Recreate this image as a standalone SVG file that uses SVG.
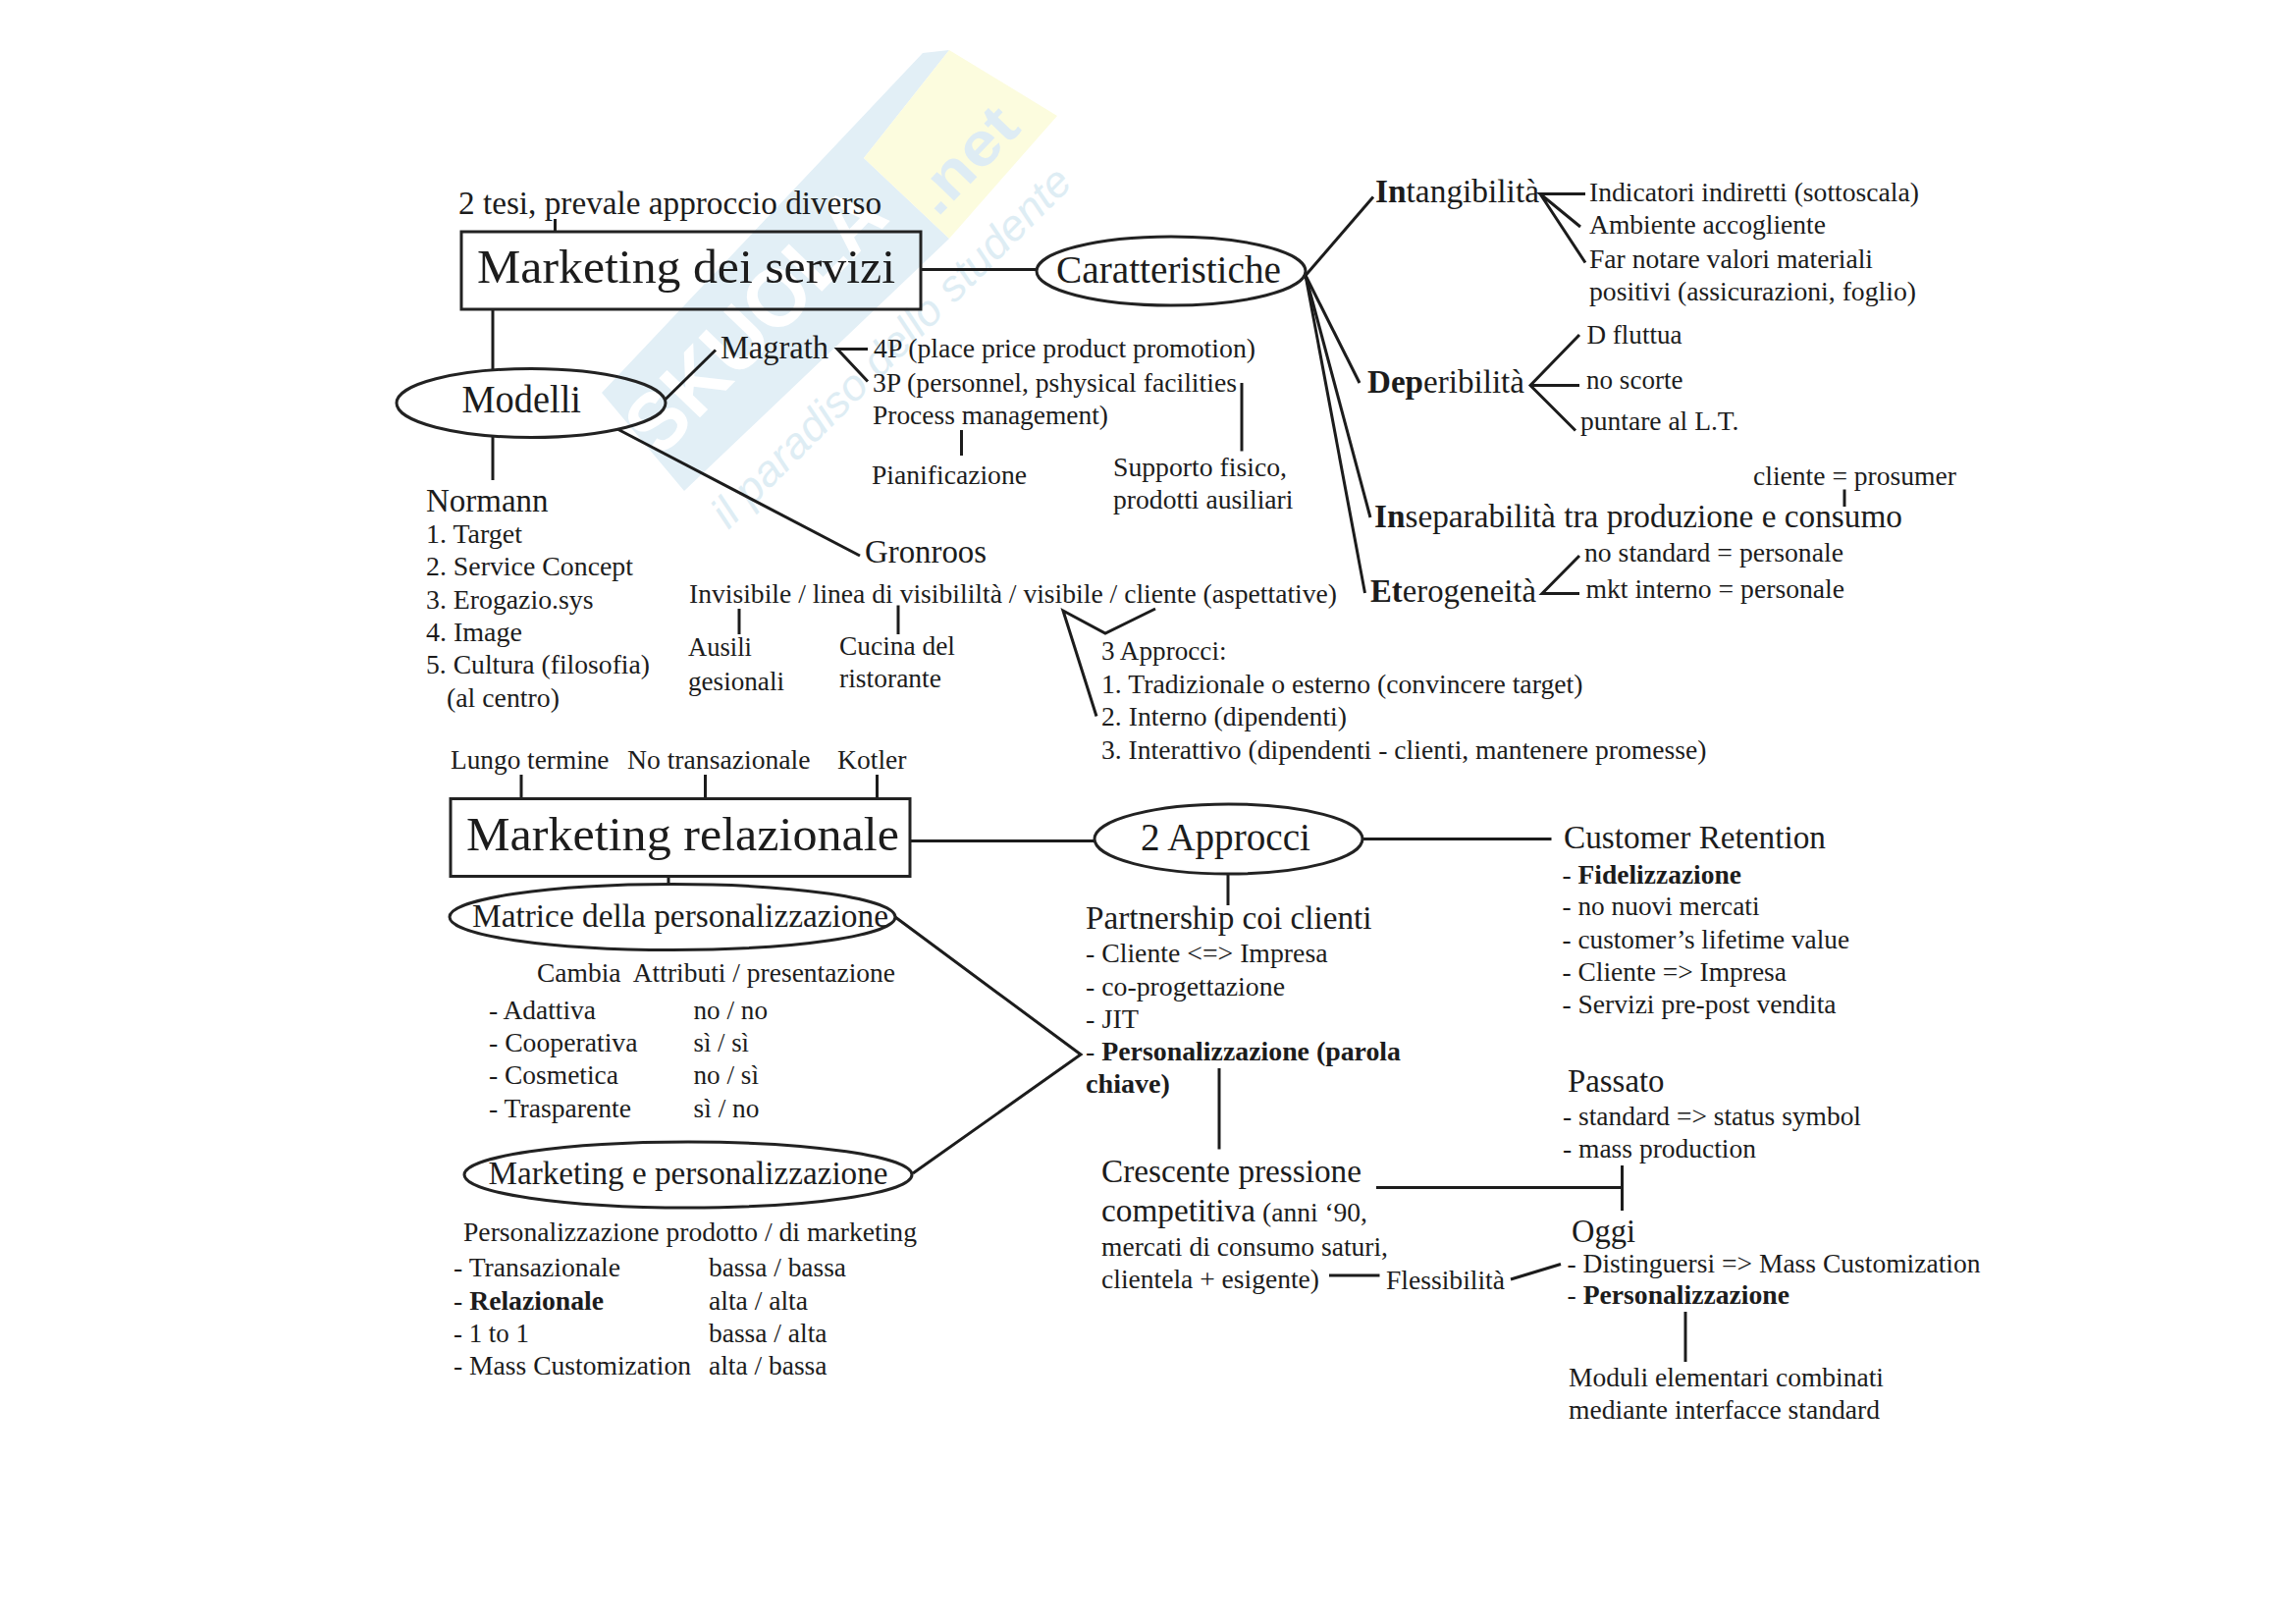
<svg xmlns="http://www.w3.org/2000/svg" width="2339" height="1653" viewBox="0 0 2339 1653">
<style>
text{font-family:"Liberation Serif","Times New Roman",serif;fill:#1c1c1c;font-size:27.5px}
.m{font-size:33px}
.o{font-size:39px}
.h{font-size:48px}
tspan.b,.b{font-weight:bold}
.box{fill:none;stroke:#222;stroke-width:3}
.ln{fill:none;stroke:#1c1c1c;stroke-width:3;stroke-linejoin:miter}
.wm{font-family:"Liberation Sans",Arial,sans-serif;font-weight:bold}
.wi{font-family:"Liberation Sans",Arial,sans-serif;font-style:italic;fill:#deedf4;font-size:44px}
</style>
<rect width="2339" height="1653" fill="#fff"/>
<g id="watermark">
<polygon points="940,54 967,51 880,161 967,243 697,500 613,400" fill="#e2eff6"/>
<polygon points="967,51 1077,118 967,243 880,161" fill="#fcfcde"/>
<text class="wm" transform="translate(672,468) rotate(-46)" style="fill:#fff;font-size:84px" textLength="340" lengthAdjust="spacingAndGlyphs">SKUOLA</text>
<text class="wm" transform="translate(955,222) rotate(-46)" style="fill:#deecf4;font-size:62px" textLength="125" lengthAdjust="spacingAndGlyphs">.net</text>
<text class="wi" transform="translate(742,540) rotate(-45)" textLength="498" lengthAdjust="spacingAndGlyphs">il paradiso dello studente</text>
</g>
<g id="connectors" class="ln">
<path d="M565.5 223V236"/>
<path d="M938 274.500H1056"/>
<path d="M502 315V376"/>
<path d="M677 407.500L729 356.500"/>
<path d="M884 355.500H853L884 388.500"/>
<path d="M979.500 438V464"/>
<path d="M1265 390V459.500"/>
<path d="M502 445V489"/>
<path d="M629 437L876 566"/>
<path d="M753 620V646"/>
<path d="M915 616.500V646"/>
<path d="M1177 620L1126 645L1083 622L1117 729.500"/>
<path d="M1330 280.500L1399 200.500"/>
<path d="M1330 280.500L1385 390"/>
<path d="M1330 280.500L1396 527"/>
<path d="M1330 280.500L1390.500 604"/>
<path d="M1615 197.500H1569L1610 231M1569 197.500L1615 267.500"/>
<path d="M1609 341L1559 392.500L1605 438.500M1559 392.500H1609"/>
<path d="M1879 498.500V516"/>
<path d="M1609 566L1571 604.500H1609"/>
<path d="M531 789V813.500M718.500 789V813.500M893.500 789V813.500"/>
<path d="M927 856.500H1115"/>
<path d="M681 892.500V900.500"/>
<path d="M912 934L1101 1074L930 1195"/>
<path d="M1388 854.500H1580.500"/>
<path d="M1251 890V922"/>
<path d="M1242 1088V1170.500"/>
<path d="M1354 1299H1405.500"/>
<path d="M1539 1303L1590 1287.500"/>
<path d="M1402 1209.500H1652.500"/>
<path d="M1652.500 1187V1233"/>
<path d="M1717 1336V1387"/>
</g>
<g id="tesi"><text x="467" y="218" class="m" textLength="431" lengthAdjust="spacingAndGlyphs">2 tesi, prevale approccio diverso</text></g>
<g id="marketing-servizi"><rect class="box" x="470" y="236" width="468" height="79"/><text x="486" y="288" class="h" textLength="426" lengthAdjust="spacingAndGlyphs">Marketing dei servizi</text></g>
<g id="caratteristiche"><ellipse class="box" cx="1193" cy="276" rx="137" ry="35"/><text x="1076" y="288" class="o" textLength="229" lengthAdjust="spacingAndGlyphs">Caratteristiche</text></g>
<g id="modelli"><ellipse class="box" cx="541" cy="410.500" rx="137" ry="35"/><text x="470.500" y="420" class="o" textLength="121.500" lengthAdjust="spacingAndGlyphs">Modelli</text></g>
<g id="magrath">
<text x="734" y="365" class="m" textLength="110" lengthAdjust="spacingAndGlyphs">Magrath</text>
<text x="890" y="364" textLength="389" lengthAdjust="spacingAndGlyphs">4P (place price product promotion)</text>
<text x="889" y="399" textLength="371" lengthAdjust="spacingAndGlyphs">3P (personnel, pshysical facilities</text>
<text x="889" y="432" textLength="240" lengthAdjust="spacingAndGlyphs">Process management)</text>
<text x="888" y="492.500" textLength="158" lengthAdjust="spacingAndGlyphs">Pianificazione</text>
<text x="1134" y="485" textLength="177" lengthAdjust="spacingAndGlyphs">Supporto fisico,</text>
<text x="1134" y="517.500" textLength="183.500" lengthAdjust="spacingAndGlyphs">prodotti ausiliari</text>
</g>
<g id="normann">
<text x="434" y="521" class="m" textLength="124.600" lengthAdjust="spacingAndGlyphs">Normann</text>
<text x="434" y="553" textLength="98" lengthAdjust="spacingAndGlyphs">1. Target</text>
<text x="434" y="586" textLength="211" lengthAdjust="spacingAndGlyphs">2. Service Concept</text>
<text x="434" y="620" textLength="170.500" lengthAdjust="spacingAndGlyphs">3. Erogazio.sys</text>
<text x="434" y="653" textLength="98" lengthAdjust="spacingAndGlyphs">4. Image</text>
<text x="434" y="686" textLength="228" lengthAdjust="spacingAndGlyphs">5. Cultura (filosofia)</text>
<text x="455" y="720" textLength="115" lengthAdjust="spacingAndGlyphs">(al centro)</text>
</g>
<g id="gronroos">
<text x="881" y="573" class="m" textLength="124" lengthAdjust="spacingAndGlyphs">Gronroos</text>
<text x="702" y="614" textLength="660" lengthAdjust="spacingAndGlyphs">Invisibile / linea di visibililtà / visibile / cliente (aspettative)</text>
<text x="701" y="668" textLength="65" lengthAdjust="spacingAndGlyphs">Ausili</text>
<text x="701" y="702.500" textLength="98" lengthAdjust="spacingAndGlyphs">gesionali</text>
<text x="855" y="667" textLength="118" lengthAdjust="spacingAndGlyphs">Cucina del</text>
<text x="855" y="700" textLength="104" lengthAdjust="spacingAndGlyphs">ristorante</text>
<text x="1122" y="672" textLength="127.500" lengthAdjust="spacingAndGlyphs">3 Approcci:</text>
<text x="1122" y="706" textLength="490.500" lengthAdjust="spacingAndGlyphs">1. Tradizionale o esterno (convincere target)</text>
<text x="1122" y="739" textLength="250" lengthAdjust="spacingAndGlyphs">2. Interno (dipendenti)</text>
<text x="1122" y="772.500" textLength="616.500" lengthAdjust="spacingAndGlyphs">3. Interattivo (dipendenti - clienti, mantenere promesse)</text>
</g>
<g id="intangibilita">
<text x="1401" y="206" class="m" textLength="167" lengthAdjust="spacingAndGlyphs"><tspan class="b">In</tspan>tangibilità</text>
<text x="1619" y="205" textLength="336" lengthAdjust="spacingAndGlyphs">Indicatori indiretti (sottoscala)</text>
<text x="1619" y="238" textLength="241" lengthAdjust="spacingAndGlyphs">Ambiente accogliente</text>
<text x="1619" y="272.500" textLength="289" lengthAdjust="spacingAndGlyphs">Far notare valori materiali</text>
<text x="1619" y="305.500" textLength="333" lengthAdjust="spacingAndGlyphs">positivi (assicurazioni, foglio)</text>
</g>
<g id="deperibilita">
<text x="1393" y="400" class="m" textLength="160" lengthAdjust="spacingAndGlyphs"><tspan class="b">Dep</tspan>eribilità</text>
<text x="1616.500" y="350" textLength="97" lengthAdjust="spacingAndGlyphs">D fluttua</text>
<text x="1616" y="396" textLength="98.500" lengthAdjust="spacingAndGlyphs">no scorte</text>
<text x="1610" y="438" textLength="161.500" lengthAdjust="spacingAndGlyphs">puntare al L.T.</text>
</g>
<g id="inseparabilita">
<text x="1786" y="493.500" textLength="207" lengthAdjust="spacingAndGlyphs">cliente = prosumer</text>
<text x="1400" y="537" class="m" textLength="538" lengthAdjust="spacingAndGlyphs"><tspan class="b">In</tspan>separabilità tra produzione e consumo</text>
</g>
<g id="eterogeneita">
<text x="1396" y="613" class="m" textLength="169" lengthAdjust="spacingAndGlyphs"><tspan class="b">Et</tspan>erogeneità</text>
<text x="1614" y="571.500" textLength="264" lengthAdjust="spacingAndGlyphs">no standard = personale</text>
<text x="1615.500" y="608.500" textLength="263.500" lengthAdjust="spacingAndGlyphs">mkt interno = personale</text>
</g>
<g id="marketing-relazionale">
<text x="459" y="783" textLength="161.500" lengthAdjust="spacingAndGlyphs">Lungo termine</text>
<text x="639" y="783" textLength="186.500" lengthAdjust="spacingAndGlyphs">No transazionale</text>
<text x="853" y="783" textLength="70.500" lengthAdjust="spacingAndGlyphs">Kotler</text>
<rect class="box" x="459" y="813.500" width="468" height="79"/>
<text x="475" y="866" class="h" textLength="441" lengthAdjust="spacingAndGlyphs">Marketing relazionale</text>
</g>
<g id="matrice">
<ellipse class="box" cx="685" cy="934" rx="227" ry="33.500"/>
<text x="481" y="944" class="m" textLength="424" lengthAdjust="spacingAndGlyphs">Matrice della personalizzazione</text>
<text x="547" y="1000" textLength="365" lengthAdjust="spacingAndGlyphs" xml:space="preserve">Cambia  Attributi / presentazione</text>
<text x="498" y="1038" textLength="109" lengthAdjust="spacingAndGlyphs">- Adattiva</text>
<text x="706.500" y="1038" textLength="75.500" lengthAdjust="spacingAndGlyphs">no / no</text>
<text x="498" y="1071" textLength="151.500" lengthAdjust="spacingAndGlyphs">- Cooperativa</text>
<text x="706.500" y="1071" textLength="56.500" lengthAdjust="spacingAndGlyphs">sì / sì</text>
<text x="498" y="1104" textLength="132" lengthAdjust="spacingAndGlyphs">- Cosmetica</text>
<text x="706.500" y="1104" textLength="66.500" lengthAdjust="spacingAndGlyphs">no / sì</text>
<text x="498" y="1138" textLength="145" lengthAdjust="spacingAndGlyphs">- Trasparente</text>
<text x="706.500" y="1138" textLength="67" lengthAdjust="spacingAndGlyphs">sì / no</text>
</g>
<g id="marketing-personalizzazione">
<ellipse class="box" cx="701" cy="1196.500" rx="228" ry="33.500"/>
<text x="497.500" y="1205.500" class="m" textLength="407" lengthAdjust="spacingAndGlyphs">Marketing e personalizzazione</text>
<text x="472" y="1264" textLength="462" lengthAdjust="spacingAndGlyphs">Personalizzazione prodotto / di marketing</text>
<text x="462" y="1300" textLength="170" lengthAdjust="spacingAndGlyphs">- Transazionale</text>
<text x="722" y="1300" textLength="140" lengthAdjust="spacingAndGlyphs">bassa / bassa</text>
<text x="462" y="1334" textLength="153" lengthAdjust="spacingAndGlyphs">- <tspan class="b">Relazionale</tspan></text>
<text x="722" y="1334" textLength="101" lengthAdjust="spacingAndGlyphs">alta / alta</text>
<text x="462" y="1367" textLength="77" lengthAdjust="spacingAndGlyphs">- 1 to 1</text>
<text x="722" y="1367" textLength="120.500" lengthAdjust="spacingAndGlyphs">bassa / alta</text>
<text x="462" y="1400" textLength="242" lengthAdjust="spacingAndGlyphs">- Mass Customization</text>
<text x="722" y="1400" textLength="120.500" lengthAdjust="spacingAndGlyphs">alta / bassa</text>
</g>
<g id="approcci"><ellipse class="box" cx="1251.500" cy="854.500" rx="136.500" ry="35.500"/><text x="1162" y="866" class="o" textLength="173" lengthAdjust="spacingAndGlyphs">2 Approcci</text></g>
<g id="partnership">
<text x="1106" y="946" class="m" textLength="291.500" lengthAdjust="spacingAndGlyphs">Partnership coi clienti</text>
<text x="1106" y="980" textLength="246.500" lengthAdjust="spacingAndGlyphs">- Cliente &lt;=&gt; Impresa</text>
<text x="1106" y="1013.500" textLength="203" lengthAdjust="spacingAndGlyphs">- co-progettazione</text>
<text x="1106" y="1047" textLength="54" lengthAdjust="spacingAndGlyphs">- JIT</text>
<text x="1106" y="1080" textLength="321" lengthAdjust="spacingAndGlyphs">- <tspan class="b">Personalizzazione (parola</tspan></text>
<text x="1106" y="1112.500" class="b" textLength="86" lengthAdjust="spacingAndGlyphs">chiave)</text>
</g>
<g id="crescente">
<text x="1122" y="1204" class="m" textLength="265" lengthAdjust="spacingAndGlyphs">Crescente pressione</text>
<text x="1122" y="1244" class="m" textLength="157" lengthAdjust="spacingAndGlyphs">competitiva</text>
<text x="1286" y="1244" textLength="107" lengthAdjust="spacingAndGlyphs">(anni ‘90,</text>
<text x="1122" y="1278.500" textLength="292" lengthAdjust="spacingAndGlyphs">mercati di consumo saturi,</text>
<text x="1122" y="1311.500" textLength="222" lengthAdjust="spacingAndGlyphs">clientela + esigente)</text>
<text x="1412" y="1313" textLength="121" lengthAdjust="spacingAndGlyphs">Flessibilità</text>
</g>
<g id="retention">
<text x="1593" y="864" class="m" textLength="267" lengthAdjust="spacingAndGlyphs">Customer Retention</text>
<text x="1591.500" y="900" textLength="182.500" lengthAdjust="spacingAndGlyphs">- <tspan class="b">Fidelizzazione</tspan></text>
<text x="1591.500" y="932" textLength="201" lengthAdjust="spacingAndGlyphs">- no nuovi mercati</text>
<text x="1591.500" y="966" textLength="292.500" lengthAdjust="spacingAndGlyphs">- customer’s lifetime value</text>
<text x="1591.500" y="999" textLength="228.500" lengthAdjust="spacingAndGlyphs">- Cliente =&gt; Impresa</text>
<text x="1591.500" y="1032" textLength="279" lengthAdjust="spacingAndGlyphs">- Servizi pre-post vendita</text>
</g>
<g id="passato">
<text x="1597" y="1112" class="m" textLength="98.500" lengthAdjust="spacingAndGlyphs">Passato</text>
<text x="1592" y="1146" textLength="304" lengthAdjust="spacingAndGlyphs">- standard =&gt; status symbol</text>
<text x="1592" y="1179" textLength="197" lengthAdjust="spacingAndGlyphs">- mass production</text>
</g>
<g id="oggi">
<text x="1601" y="1265" class="m" textLength="65" lengthAdjust="spacingAndGlyphs">Oggi</text>
<text x="1596.500" y="1295.500" textLength="421" lengthAdjust="spacingAndGlyphs">- Distinguersi =&gt; Mass Customization</text>
<text x="1596.500" y="1328" textLength="226.500" lengthAdjust="spacingAndGlyphs">- <tspan class="b">Personalizzazione</tspan></text>
<text x="1598" y="1411.500" textLength="321" lengthAdjust="spacingAndGlyphs">Moduli elementari combinati</text>
<text x="1598" y="1445" textLength="317" lengthAdjust="spacingAndGlyphs">mediante interfacce standard</text>
</g>
</svg>
